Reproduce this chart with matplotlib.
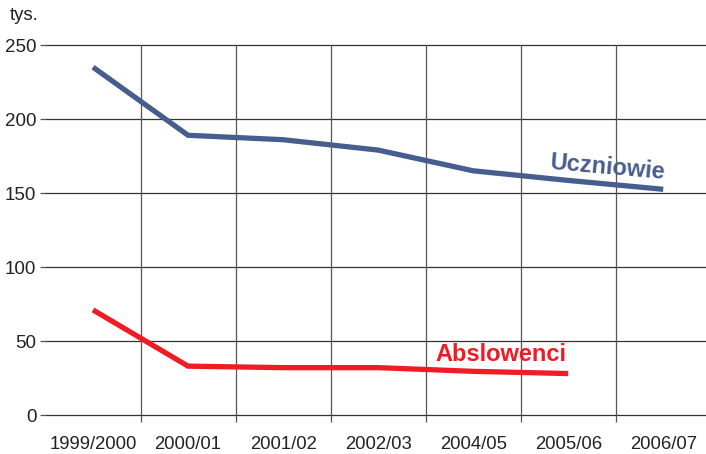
import matplotlib
matplotlib.use("Agg")
import matplotlib.pyplot as plt
import numpy as np

plt.rcParams['font.family'] = ['Liberation Sans', 'DejaVu Sans']

categories = ["1999/2000", "2000/01", "2001/02", "2002/03", "2004/05", "2005/06", "2006/07"]
uczniowie = [235, 189, 186, 179, 165, 158.5, 152.5]
absolwenci = [71, 33, 32, 32, 29.5, 28]
yticks = [0, 50, 100, 150, 200, 250]

blue = "#475d8e"
red = "#ee1c25"
grid = "#555555"

fig = plt.figure(figsize=(7.06, 4.54), dpi=100)
ax = fig.add_axes([46/706, 39/454, 660/706, 370/454])

x = np.arange(len(categories))
ax.plot(x, uczniowie, color=blue, lw=3.8, solid_capstyle='butt', solid_joinstyle='miter', zorder=3)
ax.plot(x[:len(absolwenci)], absolwenci, color=red, lw=3.8, solid_capstyle='butt', solid_joinstyle='miter', zorder=3)

ax.set_xlim(-0.495, 6.45)
ax.set_ylim(0, 250)

for y in yticks:
    ax.axhline(y, color="#333333", lw=0.9, zorder=1, clip_on=False)
for b in np.arange(0.5, len(categories) - 1, 1.0):
    ax.axvline(b, color=grid, lw=0.9, zorder=1)

ax.set_yticks(yticks)
ax.set_yticklabels([str(v) for v in yticks], fontsize=13.5, color="#222222")
ax.set_xticks(x)
ax.set_xticklabels(categories, fontsize=13.3, color="#222222")
ax.tick_params(axis='x', length=0, pad=15)
ax.set_xticks(np.arange(0.5, len(categories) - 1, 1.0), minor=True)
ax.tick_params(axis='x', which='minor', length=5, color=grid, width=0.9)
ax.tick_params(axis='y', length=4, color=grid, width=0.9, pad=3)

for s in ax.spines.values():
    s.set_visible(False)

fig.text(10/706, 1 - 16/454, "tys.", fontsize=13.3, color="#222222", va='center', ha='left')

ax.text(5.41, 167.5, "Uczniowie", color=blue, fontsize=17, fontweight='bold',
        rotation=-5, ha='center', va='center', rotation_mode='anchor', zorder=4)
ax.text(4.29, 41.2, "Abslowenci", color=red, fontsize=17, fontweight='bold',
        ha='center', va='center', zorder=4)

fig.savefig("out.png", dpi=100)
